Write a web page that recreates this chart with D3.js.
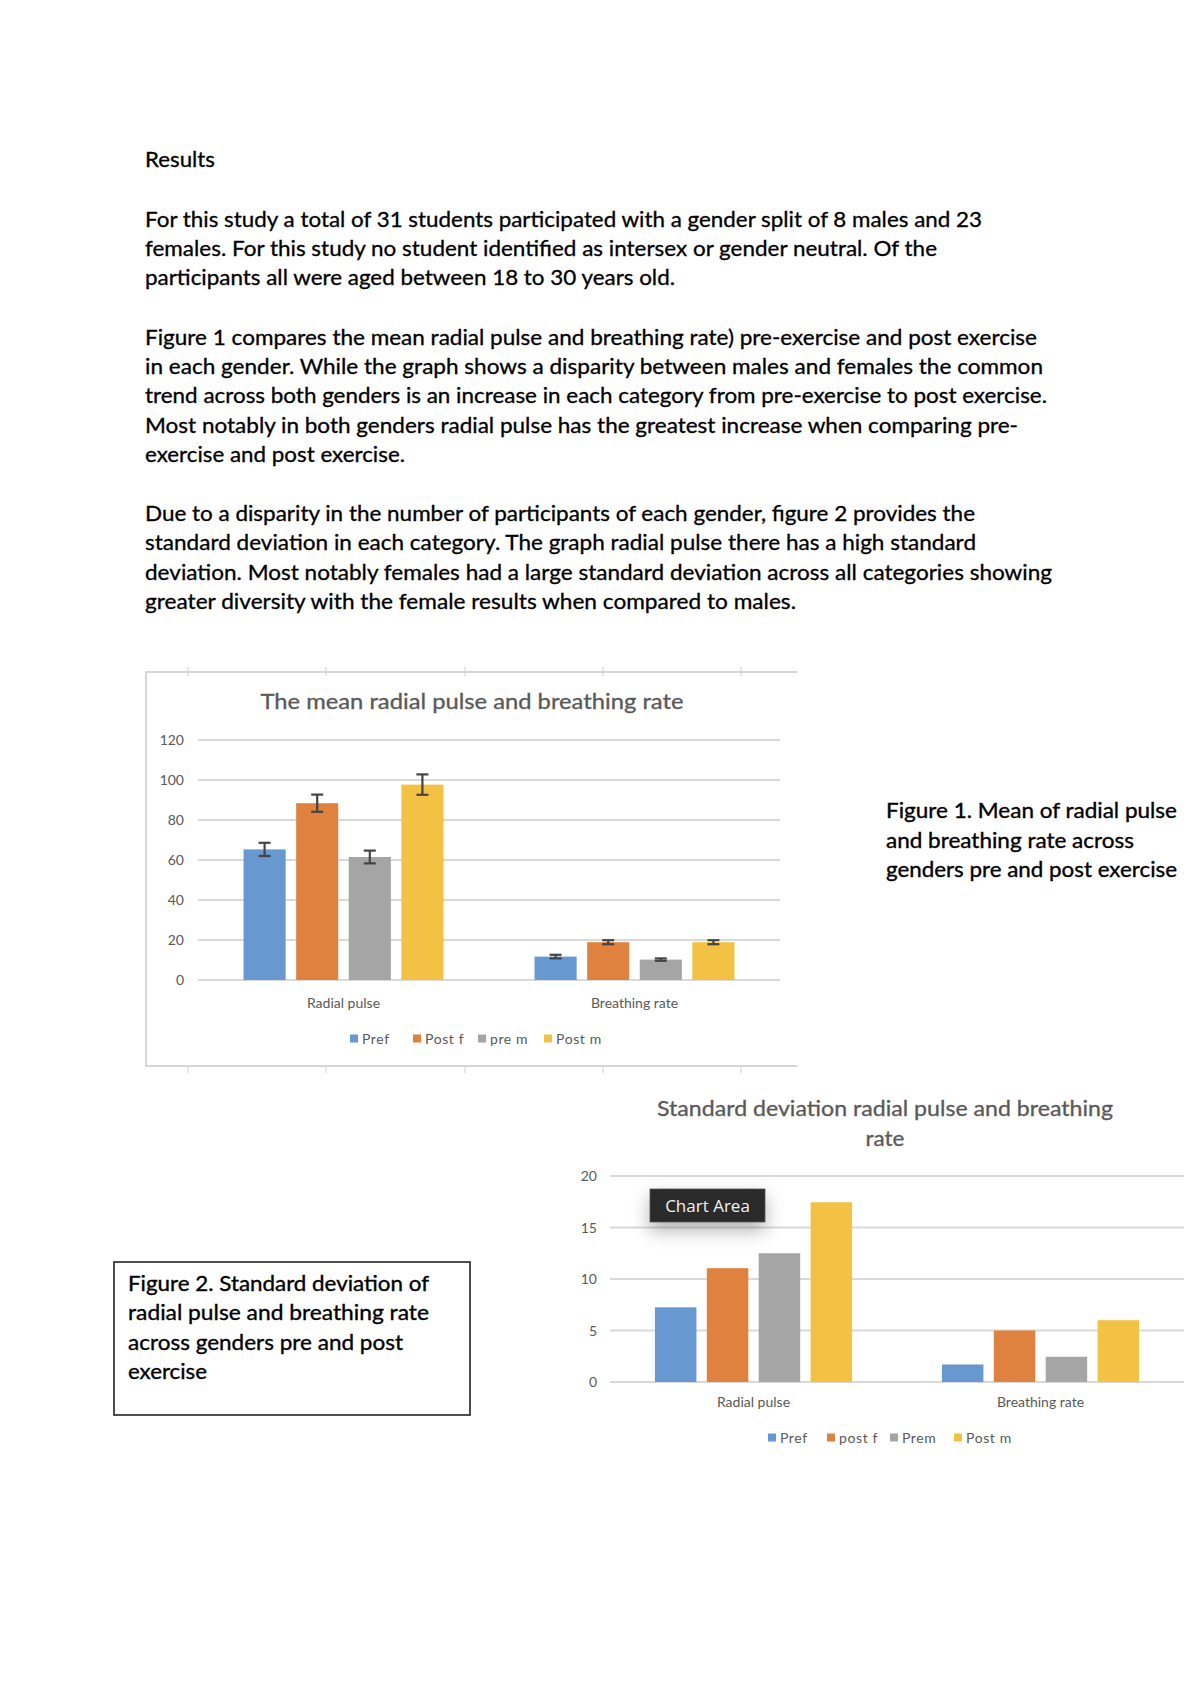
<!DOCTYPE html>
<html>
<head>
<meta charset="utf-8">
<script src="https://cdn.jsdelivr.net/npm/d3@7"></script>
<style>
  html, body { margin: 0; padding: 0; background: #fff; }
  svg { display: block; }
</style>
</head>
<body>
<svg id="page" width="1200" height="1698"></svg>
<script>
// ---------------- DATA ----------------
const categories = ["Radial pulse", "Breathing rate"];
const meanSeries = ["Pref", "Post f", "pre m", "Post m"];
const meanRadial = [65.3, 88.4, 61.5, 97.7];
const meanBreathing = [11.7, 18.9, 10.2, 18.9];
const errRadial = [3.3, 4.3, 3.2, 5.1];
const errBreathing = [0.9, 1.0, 0.6, 1.0];
const meanTicks = [0, 20, 40, 60, 80, 100, 120];

const sdSeries = ["Pref", "post f", "Prem", "Post m"];
const sdRadial = [7.25, 11.05, 12.5, 17.45];
const sdBreathing = [1.7, 5.0, 2.45, 6.0];
const sdTicks = [0, 5, 10, 15, 20];

const colors = ["#6798D0", "#E0823F", "#A5A5A5", "#F3C244"];

// ---------------- PAGE TEXT ----------------
const svg = d3.select("#page");
const bodyFont = "Lato, 'Open Sans', sans-serif";

const bodyLines = [
  {t: "Results", y: 167, w: 70},
  {t: "For this study a total of 31 students participated with a gender split of 8 males and 23", y: 227, w: 837},
  {t: "females. For this study no student identified as intersex or gender neutral. Of the", y: 256, w: 792},
  {t: "participants all were aged between 18 to 30 years old.", y: 285, w: 530},
  {t: "Figure 1 compares the mean radial pulse and breathing rate) pre-exercise and post exercise", y: 345, w: 892},
  {t: "in each gender. While the graph shows a disparity between males and females the common", y: 374, w: 898},
  {t: "trend across both genders is an increase in each category from pre-exercise to post exercise.", y: 403, w: 902},
  {t: "Most notably in both genders radial pulse has the greatest increase when comparing pre-", y: 433, w: 873},
  {t: "exercise and post exercise.", y: 462, w: 260},
  {t: "Due to a disparity in the number of participants of each gender, figure 2 provides the", y: 521, w: 830},
  {t: "standard deviation in each category. The graph radial pulse there has a high standard", y: 550, w: 831},
  {t: "deviation. Most notably females had a large standard deviation across all categories showing", y: 580, w: 907},
  {t: "greater diversity with the female results when compared to males.", y: 609, w: 651}
];
svg.append("g").selectAll("text").data(bodyLines).join("text")
  .attr("x", 145).attr("y", d => d.y)
  .attr("textLength", d => d.w).attr("lengthAdjust", "spacingAndGlyphs")
  .attr("font-family", bodyFont).attr("font-size", 20.5).attr("fill", "#000")
  .attr("stroke", "#000").attr("stroke-width", 0.3)
  .text(d => d.t);

// Figure 1 caption
const fig1Cap = [
  {t: "Figure 1. Mean of radial pulse", y: 818, w: 291},
  {t: "and breathing rate across", y: 848, w: 248},
  {t: "genders pre and post exercise", y: 877, w: 291}
];
svg.append("g").selectAll("text").data(fig1Cap).join("text")
  .attr("x", 886).attr("y", d => d.y)
  .attr("textLength", d => d.w).attr("lengthAdjust", "spacingAndGlyphs")
  .attr("font-family", bodyFont).attr("font-size", 21).attr("fill", "#000")
  .attr("stroke", "#000").attr("stroke-width", 0.35)
  .text(d => d.t);

// Figure 2 caption box
svg.append("rect").attr("x", 114).attr("y", 1262).attr("width", 356).attr("height", 153)
  .attr("fill", "#fff").attr("stroke", "#222").attr("stroke-width", 1.6);
const fig2Cap = [
  {t: "Figure 2. Standard deviation of", y: 1291, w: 301},
  {t: "radial pulse and breathing rate", y: 1320, w: 301},
  {t: "across genders pre and post", y: 1350, w: 275},
  {t: "exercise", y: 1379, w: 79}
];
svg.append("g").selectAll("text").data(fig2Cap).join("text")
  .attr("x", 128).attr("y", d => d.y)
  .attr("textLength", d => d.w).attr("lengthAdjust", "spacingAndGlyphs")
  .attr("font-family", bodyFont).attr("font-size", 21).attr("fill", "#000")
  .attr("stroke", "#000").attr("stroke-width", 0.35)
  .text(d => d.t);

// ---------------- CHART HELPER ----------------
const chartFont = "Lato, 'Open Sans', sans-serif";
const labelColor = "#595959";

function drawChart(opt) {
  const g = svg.append("g");
  const y = d3.scaleLinear().domain(opt.domain).range([opt.y0, opt.y1]);
  const x0 = d3.scaleBand().domain(categories).range([opt.xl, opt.xr])
    .paddingInner(0.313).paddingOuter(0.1565);
  const x1 = d3.scaleBand().domain(opt.series).range([0, x0.bandwidth()])
    .paddingInner(0.2).paddingOuter(0);

  // gridlines
  g.append("g").selectAll("line").data(opt.ticks).join("line")
    .attr("x1", opt.xl).attr("x2", opt.xr)
    .attr("y1", d => y(d)).attr("y2", d => y(d))
    .attr("stroke", "#d9d9d9").attr("stroke-width", 1.8);

  // y axis labels via d3 axis
  const ax = d3.axisLeft(y).tickValues(opt.ticks).tickSize(0).tickPadding(0);
  const axG = g.append("g").attr("transform", `translate(${opt.labelX},0)`).call(ax);
  axG.select(".domain").remove();
  axG.selectAll("text").attr("font-family", chartFont).attr("font-size", 14)
    .attr("fill", labelColor).attr("dy", "0.35em");

  // x axis labels
  const xax = d3.axisBottom(x0).tickSize(0).tickPadding(0);
  const xg = g.append("g").attr("transform", `translate(0,${opt.catY})`).call(xax);
  xg.select(".domain").remove();
  xg.selectAll("text").attr("font-family", chartFont).attr("font-size", 14)
    .attr("fill", labelColor).attr("dy", 0);

  // bars
  const rows = categories.map((c, ci) => ({
    cat: c,
    vals: opt.series.map((s, si) => ({s, si, v: opt.values[ci][si], e: opt.errors ? opt.errors[ci][si] : null}))
  }));
  const grp = g.append("g").selectAll("g").data(rows).join("g")
    .attr("transform", d => `translate(${x0(d.cat)},0)`);
  grp.selectAll("rect").data(d => d.vals).join("rect")
    .attr("x", d => x1(d.s)).attr("width", x1.bandwidth())
    .attr("y", d => y(d.v)).attr("height", d => y(0) - y(d.v))
    .attr("fill", d => colors[d.si]);

  if (opt.errors) {
    const eb = grp.selectAll("g.err").data(d => d.vals).join("g").attr("class", "err")
      .attr("stroke", "#444").attr("stroke-width", 2.2);
    const cx = d => x1(d.s) + x1.bandwidth() / 2;
    eb.append("line").attr("x1", cx).attr("x2", cx)
      .attr("y1", d => y(d.v + d.e)).attr("y2", d => y(d.v - d.e));
    eb.append("line").attr("x1", d => cx(d) - 6).attr("x2", d => cx(d) + 6)
      .attr("y1", d => y(d.v + d.e)).attr("y2", d => y(d.v + d.e));
    eb.append("line").attr("x1", d => cx(d) - 6).attr("x2", d => cx(d) + 6)
      .attr("y1", d => y(d.v - d.e)).attr("y2", d => y(d.v - d.e));
  }

  // title
  g.append("g").selectAll("text").data(opt.title).join("text")
    .attr("x", opt.titleX).attr("y", d => d.y).attr("text-anchor", "middle")
    .attr("font-family", chartFont).attr("font-size", 20.5).attr("fill", labelColor)
    .attr("stroke", labelColor).attr("stroke-width", 0.3)
    .attr("textLength", d => d.w).attr("lengthAdjust", "spacingAndGlyphs")
    .text(d => d.t);

  // legend
  const lg = g.append("g").selectAll("g").data(opt.series).join("g")
    .attr("transform", (d, i) => `translate(${opt.legendX[i]},${opt.legendY})`);
  lg.append("rect").attr("x", 0).attr("y", -4.5).attr("width", 8).attr("height", 8)
    .attr("fill", (d, i) => colors[i]);
  lg.append("text").attr("x", 12).attr("y", 0).attr("dy", "0.35em")
    .attr("font-family", chartFont).attr("font-size", 14).attr("fill", labelColor)
    .attr("letter-spacing", 0.6)
    .text(d => d);
  return g;
}

// ---------------- CHART 1 FRAME ----------------
const frame = svg.append("g");
frame.append("path").attr("d", "M797,672 H146 V1066 H797")
  .attr("fill", "none").attr("stroke", "#d6d6d6").attr("stroke-width", 2);
const rulerX = [188, 326, 465, 603, 741];
frame.selectAll("line.rt").data(rulerX).join("line").attr("class", "rt")
  .attr("x1", d => d).attr("x2", d => d).attr("y1", 667).attr("y2", 676)
  .attr("stroke", "#cfcfcf").attr("stroke-width", 1);
frame.selectAll("line.rb").data(rulerX).join("line").attr("class", "rb")
  .attr("x1", d => d).attr("x2", d => d).attr("y1", 1067).attr("y2", 1073)
  .attr("stroke", "#cfcfcf").attr("stroke-width", 1);

// ---------------- CHART 1 ----------------
drawChart({
  series: meanSeries,
  values: [meanRadial, meanBreathing],
  errors: [errRadial, errBreathing],
  ticks: meanTicks,
  domain: [0, 120], y0: 980, y1: 740,
  xl: 198, xr: 780,
  labelX: 184,
  catY: 1008,
  title: [{t: "The mean radial pulse and breathing rate", y: 709, w: 423}],
  titleX: 472,
  legendX: [350, 413, 478, 544],
  legendY: 1039
});

// ---------------- CHART 2 ----------------
drawChart({
  series: sdSeries,
  values: [sdRadial, sdBreathing],
  errors: null,
  ticks: sdTicks,
  domain: [0, 20], y0: 1382, y1: 1176,
  xl: 610, xr: 1184,
  labelX: 597,
  catY: 1407,
  title: [{t: "Standard deviation radial pulse and breathing", y: 1116, w: 456},
          {t: "rate", y: 1146, w: 39}],
  titleX: 885,
  legendX: [768, 827, 890, 954],
  legendY: 1438
});

// ---------------- "Chart Area" tooltip ----------------
const defs = svg.append("defs");
const flt = defs.append("filter").attr("id", "sh").attr("x", "-50%").attr("y", "-50%")
  .attr("width", "200%").attr("height", "250%");
flt.append("feDropShadow").attr("dx", 0).attr("dy", 8).attr("stdDeviation", 9)
  .attr("flood-color", "#000").attr("flood-opacity", 0.3);
const tip = svg.append("g");
tip.append("rect").attr("x", 650).attr("y", 1189).attr("width", 115).attr("height", 33)
  .attr("fill", "#2a2a2a").attr("stroke", "#555").attr("stroke-width", 0.8).attr("filter", "url(#sh)");
tip.append("text").attr("x", 707.5).attr("y", 1212).attr("text-anchor", "middle")
  .attr("font-family", "'Open Sans', Lato, sans-serif").attr("font-size", 17).attr("fill", "#f2f2f2")
  .text("Chart Area");
</script>
</body>
</html>
